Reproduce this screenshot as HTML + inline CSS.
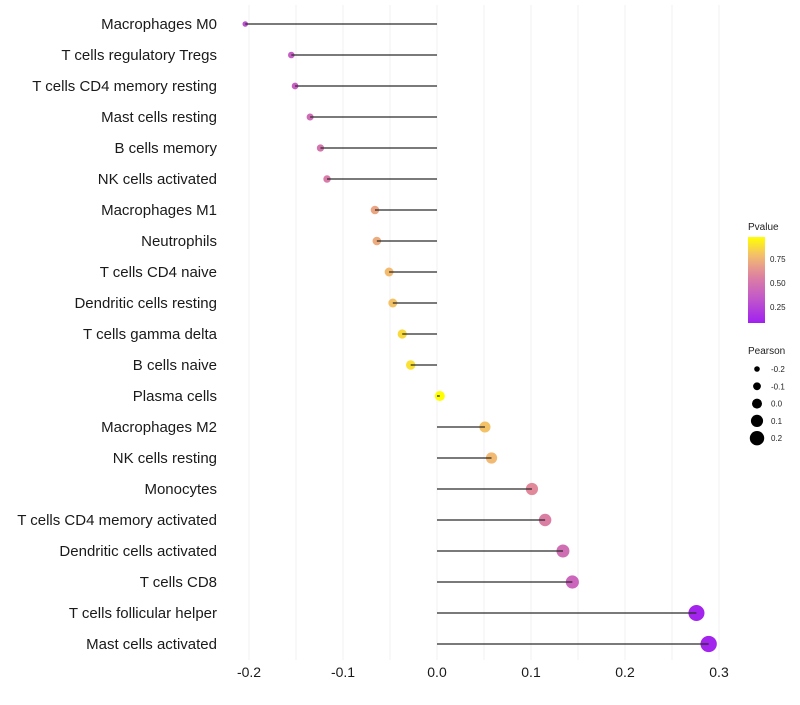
<!DOCTYPE html>
<html><head><meta charset="utf-8"><style>
body{margin:0;background:#fff;font-family:"Liberation Sans",sans-serif;}
</style></head><body>
<svg id="chart" width="800" height="700" xmlns="http://www.w3.org/2000/svg" font-family="Liberation Sans, sans-serif"></svg>
<script>
const categories=["Macrophages M0","T cells regulatory  Tregs","T cells CD4 memory resting","Mast cells resting","B cells memory","NK cells activated","Macrophages M1","Neutrophils","T cells CD4 naive","Dendritic cells resting","T cells gamma delta","B cells naive","Plasma cells","Macrophages M2","NK cells resting","Monocytes","T cells CD4 memory activated","Dendritic cells activated","T cells CD8","T cells follicular helper","Mast cells activated"];
const pearson=[-0.204,-0.155,-0.151,-0.135,-0.124,-0.117,-0.066,-0.064,-0.051,-0.047,-0.037,-0.028,0.003,0.051,0.058,0.101,0.115,0.134,0.144,0.276,0.289];
const pvalue=[0.30,0.37,0.38,0.45,0.50,0.53,0.70,0.72,0.78,0.80,0.87,0.89,0.98,0.80,0.77,0.60,0.55,0.46,0.42,0.10,0.10];
const xTicks=[-0.2,-0.1,0.0,0.1,0.2,0.3];
const xTickLabels=["-0.2","-0.1","0.0","0.1","0.2","0.3"];
const pLegendTicks=[0.25,0.5,0.75];
const pLegendLabels=["0.25","0.50","0.75"];
const sizeLegend=[-0.2,-0.1,0.0,0.1,0.2];
const sizeLegendLabels=["-0.2","-0.1","0.0","0.1","0.2"];

const svg=document.getElementById('chart');
const NS="http://www.w3.org/2000/svg";
function mk(t,a,p){const e=document.createElementNS(NS,t);for(const k in a)e.setAttribute(k,a[k]);(p||svg).appendChild(e);return e;}
const x=v=>437+v*940;
const y=i=>24+i*31;
const pMin=0.08,pMax=0.98;
const stops=[[0,[160,32,240]],[0.3,[195,90,200]],[0.55,[222,130,160]],[0.78,[243,188,112]],[1,[255,255,0]]];
function col(p){let t=Math.max(0,Math.min(1,(p-pMin)/(pMax-pMin)));for(let i=1;i<stops.length;i++){if(t<=stops[i][0]){const a=stops[i-1],b=stops[i];const f=(t-a[0])/(b[0]-a[0]);const c=a[1].map((v,k)=>Math.round(v+(b[1][k]-v)*f));return `rgb(${c})`;}}return 'rgb(255,255,0)';}
const r=v=>5+v*11;

for(let k=0;k<=10;k++){const v=-0.2+k*0.05;const g=mk('line',{x1:x(v),x2:x(v),y1:5,y2:660,stroke:'#f0f0f0','stroke-width':1});}
xTicks.forEach((v,i)=>{const t=mk('text',{x:x(v),y:677,'text-anchor':'middle','font-size':14,fill:'#1a1a1a'});t.textContent=xTickLabels[i];});
categories.forEach((c,i)=>{
 const t=mk('text',{x:217,y:y(i)+5,'text-anchor':'end','font-size':15,fill:'#1a1a1a'});t.textContent=c;
 
 const d=mk('circle',{cx:x(pearson[i]),cy:y(i),r:r(pearson[i]),fill:col(pvalue[i])});
 
});
categories.forEach((c,i)=>{
 const l=mk('line',{x1:x(0),x2:x(pearson[i]),y1:y(i),y2:y(i),stroke:'#2a2a2a','stroke-width':1.3});
 
});
const lt=mk('text',{x:748,y:230,'font-size':10,fill:'#222'});lt.textContent='Pvalue';
const defs=mk('defs',{});const lg=mk('linearGradient',{id:'pg',x1:0,y1:1,x2:0,y2:0},defs);
for(let k=0;k<=10;k++){mk('stop',{offset:k/10,'stop-color':col(pMin+(pMax-pMin)*k/10)},lg);}
const ly=p=>323-(p-pMin)/(pMax-pMin)*86;
const bar=mk('rect',{x:748,y:237,width:17,height:86,fill:'url(#pg)'});
pLegendTicks.forEach((p,i)=>{const t=mk('text',{x:770,y:ly(p)+3,'font-size':8,fill:'#222'});t.textContent=pLegendLabels[i];});
const st=mk('text',{x:748,y:354,'font-size':10,fill:'#222'});st.textContent='Pearson';
sizeLegend.forEach((v,i)=>{const yy=369+i*17.3;const c=mk('circle',{cx:757,cy:yy,r:r(v),fill:'#000'});
 const t=mk('text',{x:771,y:yy+3,'font-size':8,fill:'#222'});t.textContent=sizeLegendLabels[i];});
</script>
</body></html>
